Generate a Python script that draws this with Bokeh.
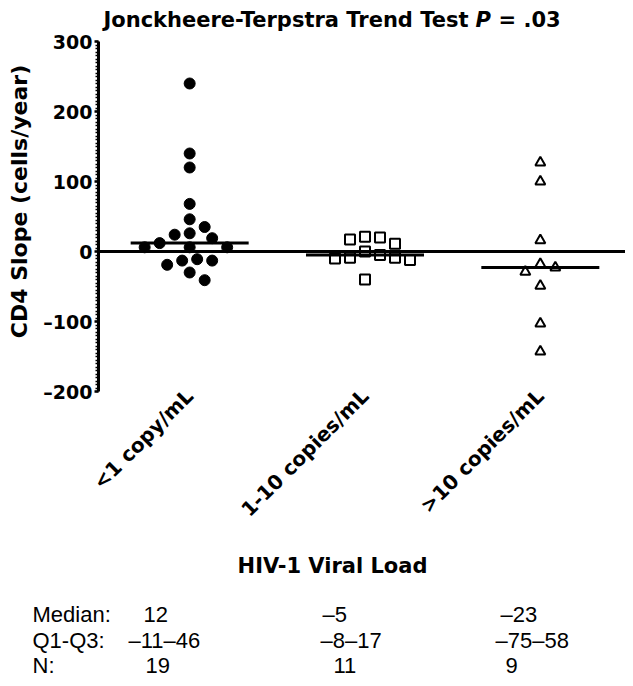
import math
from bokeh.plotting import figure
from bokeh.models import Range1d, FixedTicker, Label
from bokeh.embed import file_html
from bokeh.resources import INLINE

# ---------------- data ----------------
groups = ["<1 copy/mL", "1-10 copies/mL", ">10 copies/mL"]
g1_vals = [240, 140, 120, 68, 46, 35, 26, 24, 19, 12, 6, 6, 6, -11, -13, -13, -19, -30, -41]
g2_vals = [21, 20, 17, 11, 0, -5, -9, -9, -10, -12, -40]
g3_vals = [127, 100, 16, -18, -23, -29, -49, -103, -143]
medians = [12, -5, -23]
y_ticks = [-200, -100, 0, 100, 200, 300]
y_tick_labels = ["\u2013200", "\u2013100", "0", "100", "200", "300"]
title_main = "Jonckheere-Terpstra Trend Test"
title_p = "P"
title_val = "= .03"
y_title = "CD4 Slope (cells/year)"
x_title = "HIV-1 Viral Load"
row_names = ["Median:", "Q1-Q3:", "N:"]
median_txt = ["12", "\u20135", "\u201323"]
iqr_txt = ["\u201311\u201346", "\u20138\u201317", "\u201375\u201358"]
n_txt = ["19", "11", "9"]

# ---------------- layout ----------------
W, H = 625, 678
X_AX, X_END = 98, 631    # plot area horizontal extent (px)
Y_TOP, Y_BOT = 41, 391   # plot area vertical extent (px)
PX = (-0.52, 2.52)
PY = (-200, 300)
px_x = (X_END - X_AX) / (PX[1] - PX[0])
px_y = (Y_BOT - Y_TOP) / (PY[1] - PY[0])
XR = (PX[0] - X_AX / px_x, PX[0] + (W - X_AX) / px_x)
YR = (PY[0] - (H - Y_BOT) / px_y, PY[1] + Y_TOP / px_y)

BOLD = "DejaVu Sans"
REG = "Liberation Sans"

p = figure(width=W, height=H, output_backend="svg", toolbar_location=None,
           x_range=Range1d(*XR), y_range=Range1d(*YR),
           min_border=0, title=None)
p.outline_line_color = None
p.xgrid.visible = False
p.ygrid.visible = False
p.background_fill_color = "white"
p.border_fill_color = "white"

# y axis (drawn at the left edge of the plot area)
ya = p.yaxis[0]
ya.fixed_location = PX[0]
ya.bounds = PY
ya.ticker = FixedTicker(ticks=y_ticks, minor_ticks=list(range(-200, 301, 5)))
ya.major_label_overrides = {t: l for t, l in zip(y_ticks, y_tick_labels)}
ya.axis_line_width = 3
ya.axis_line_color = "black"
ya.major_tick_line_width = 2.5
ya.major_tick_out = 4
ya.major_tick_in = 0
ya.minor_tick_line_width = 1.5
ya.minor_tick_out = 3
ya.minor_tick_in = 0
ya.major_label_standoff = 2
ya.major_label_text_font = BOLD
ya.major_label_text_font_style = "bold"
ya.major_label_text_font_size = "19px"
ya.major_label_text_color = "black"

# x axis: category labels only
xa = p.xaxis[0]
xa.fixed_location = PY[0]
xa.bounds = PX
xa.ticker = FixedTicker(ticks=[0, 1, 2], minor_ticks=[])
xa.major_label_overrides = {i: g for i, g in enumerate(groups)}
xa.major_label_orientation = math.pi / 4
xa.axis_line_color = None
xa.major_tick_line_color = None
xa.minor_tick_line_color = None
xa.major_label_standoff = -5
xa.major_label_text_font = BOLD
xa.major_label_text_font_style = "bold"
xa.major_label_text_font_size = "20px"
xa.major_label_text_color = "black"


def swarm(vals, step=7.5, diam=11.0):
    order = sorted(range(len(vals)), key=lambda i: -vals[i])
    placed = []
    offs = [0.0] * len(vals)
    cands = [0.0]
    for m in range(1, 30):
        cands += [m * step, -m * step]
    for i in order:
        y = vals[i] * px_y
        for c in cands:
            if all((c - a) ** 2 + (y - b) ** 2 >= diam ** 2 - 1e-6 for a, b in placed):
                break
        placed.append((c, y))
        offs[i] = c
    return offs


def xs_for(idx, vals, step, diam):
    return [idx + o / px_x for o in swarm(vals, step, diam)]


p.scatter(xs_for(0, g1_vals, 7.5, 13), g1_vals, marker="circle", size=11,
          fill_color="black", line_color="black", line_width=1)
p.scatter(xs_for(1, g2_vals, 7.5, 13), g2_vals, marker="square", size=10,
          fill_color="white", line_color="black", line_width=2)
p.scatter(xs_for(2, g3_vals, 7.5, 13), g3_vals, marker="triangle", size=10,
          fill_color="white", line_color="black", line_width=2)

# zero reference line across the plot area
p.segment(x0=[PX[0]], y0=[0], x1=[PX[1]], y1=[0], line_color="black", line_width=3)

# median lines
half = 59 / px_x
p.segment(x0=[i - half for i in range(3)], y0=medians,
          x1=[i + half for i in range(3)], y1=medians,
          line_color="black", line_width=3)


def img_label(text, X, Y, font=BOLD, style="bold", size="20px", align="left",
              baseline="middle", angle=0.0):
    # X, Y in canvas pixels from top-left
    p.add_layout(Label(x=X, y=H - Y, x_units="screen", y_units="screen", text=text,
                       text_font=font, text_font_style=style, text_font_size=size,
                       text_align=align, text_baseline=baseline, angle=angle,
                       text_color="black"))


# title
img_label(title_main, 468, 19, size="21px", align="right", baseline="alphabetic")
img_label(title_p, 475, 19, size="21px", style="bold italic", baseline="alphabetic")
img_label(title_val, 498, 19, size="21px", baseline="alphabetic")

# y title
img_label(y_title, 19, 201, size="22px", align="center", angle=math.pi / 2)

# x title
img_label(x_title, 332, 565, size="21px", align="center")

# table
row_y = [614, 640, 665]
for name, Y in zip(row_names, row_y):
    img_label(name, 32, Y, font=REG, style="normal", size="22px")
for txt, X in zip(median_txt, [143, 322, 500]):
    img_label(txt, X, row_y[0], font=REG, style="normal", size="22px")
for txt, X in zip(iqr_txt, [128, 320, 495]):
    img_label(txt, X, row_y[1], font=REG, style="normal", size="22px")
for txt, X in zip(n_txt, [145, 333, 505]):
    img_label(txt, X, row_y[2], font=REG, style="normal", size="22px")

open("out.html", "w").write(file_html(p, INLINE))
